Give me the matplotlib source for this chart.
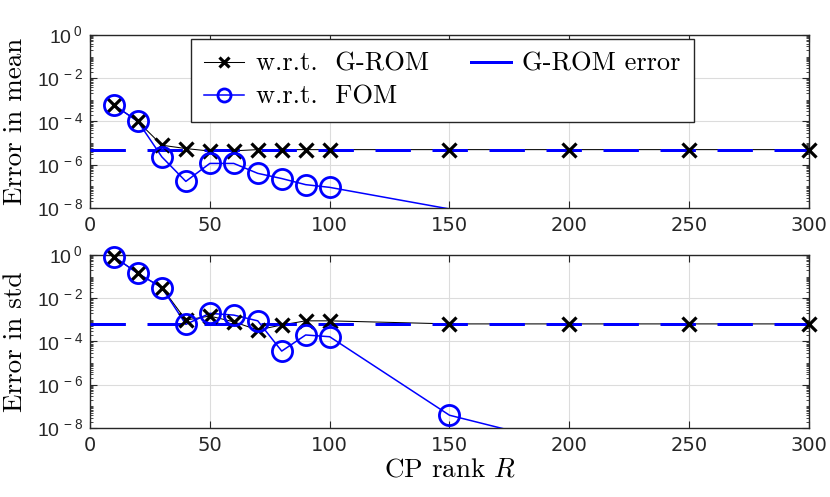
"""
Error of the CP-decomposed ROM versus CP rank (mean and std)
"""

import numpy as np
import matplotlib

matplotlib.use('Agg')

import matplotlib.pyplot as plt
from matplotlib.lines import Line2D
from matplotlib.ticker import LogLocator, FuncFormatter, MultipleLocator, NullFormatter

# CP ranks
cp_rank = [10, 20, 30, 40, 50, 60, 70, 80, 90, 100, 150, 200, 250, 300]

# Error in mean
mean_wrt_grom = [5.8e-4, 1.0e-4, 8.0e-6, 5.6e-6, 4.3e-6, 4.4e-6, 5.0e-6, 5.0e-6, 5.0e-6, 5.0e-6,
                 5.0e-6, 5.0e-6, 5.0e-6, 5.0e-6]
mean_wrt_fom = [5.8e-4, 1.0e-4, 2.3e-6, 1.7e-7, 1.15e-6, 1.15e-6, 4.0e-7, 2.3e-7, 1.2e-7, 9.0e-8,
                9.0e-9, 3.0e-9, 1.5e-9, 1.0e-9]
mean_grom_error = 5.0e-6

# Error in std
std_wrt_grom = [0.83, 0.14, 0.031, 9.8e-4, 1.5e-3, 8.1e-4, 3.4e-4, 5.8e-4, 9.0e-4, 9.0e-4,
                6.5e-4, 6.5e-4, 6.5e-4, 6.5e-4]
std_wrt_fom = [0.83, 0.14, 0.031, 6.2e-4, 2.0e-3, 1.66e-3, 9.0e-4, 3.6e-5, 2.0e-4, 1.66e-4,
               3.9e-8, 1.6e-9, 5.0e-10, 2.0e-10]
std_grom_error = 6.2e-4

y_min, y_max = 1e-8, 1e0
x_min, x_max = 0, 300

plt.rcParams['mathtext.fontset'] = 'custom'
plt.rcParams['mathtext.rm'] = 'Liberation Sans'
plt.rcParams['mathtext.it'] = 'cmmi10'
plt.rcParams['axes.unicode_minus'] = True

AXIS_COLOR = '#262626'
LABEL_FONT = 'cmr10'
LABEL_SIZE = 19.5


def draw_panel(ax, wrt_grom, wrt_fom, grom_error, y_label):
    x = np.array(cp_rank)
    g = np.array(wrt_grom)
    f = np.array(wrt_fom)

    # Lines are clipped by the axes; markers are drawn only for points inside the limits (MATLAB style)
    ax.plot(x, g, color='k', lw=0.75, zorder=3)
    ax.plot(x, f, color='b', lw=1.1, zorder=4)
    ax.axhline(grom_error, color='b', lw=2.16, linestyle=(0, (11.8, 7.2)), zorder=5)

    mask_g = (g >= y_min) & (g <= y_max)
    mask_f = (f >= y_min) & (f <= y_max)
    ax.plot(x[mask_g], g[mask_g], ls='none', marker='x', ms=10.5, mew=2.3, color='k',
            clip_on=False, zorder=6)
    ax.plot(x[mask_f], f[mask_f], ls='none', marker='o', ms=14.5, mew=2.0, mfc='none', mec='b',
            clip_on=False, zorder=6)

    ax.set_yscale('log')
    ax.set_ylim(y_min, y_max)
    ax.set_xlim(x_min, x_max)

    ax.yaxis.set_major_locator(LogLocator(base=100, numticks=10))
    ax.yaxis.set_minor_locator(LogLocator(base=10, subs=np.arange(1, 10), numticks=20))
    ax.yaxis.set_major_formatter(FuncFormatter(lambda v, p: r'$10^{\,%d}$' % round(np.log10(v))))
    ax.yaxis.set_minor_formatter(NullFormatter())
    ax.xaxis.set_major_locator(MultipleLocator(50))

    ax.tick_params(which='both', direction='in', top=True, right=True, color=AXIS_COLOR,
                   labelcolor=AXIS_COLOR, labelsize=14)
    ax.tick_params(which='major', length=5, width=0.8)
    ax.tick_params(which='minor', length=2.5, width=0.6)
    ax.tick_params(axis='x', pad=6)
    ax.tick_params(axis='y', pad=5)

    for spine in ax.spines.values():
        spine.set_color(AXIS_COLOR)
        spine.set_linewidth(1.0)

    ax.grid(True, which='major', color='#dcdcdc', lw=0.8)
    ax.set_axisbelow(True)

    ax.set_ylabel(y_label, family=LABEL_FONT, fontsize=LABEL_SIZE, color='k')
    ax.yaxis.set_label_coords(-0.088, 0.5)


fig = plt.figure(figsize=(8.3, 4.97), dpi=100)
ax_mean = fig.add_axes([0.1084, 0.5815, 0.8663, 0.3481])
ax_std = fig.add_axes([0.1084, 0.1388, 0.8663, 0.3482])

draw_panel(ax_mean, mean_wrt_grom, mean_wrt_fom, mean_grom_error, 'Error in mean')
draw_panel(ax_std, std_wrt_grom, std_wrt_fom, std_grom_error, 'Error in std')

ax_std.set_xlabel(r'CP rank $R$', family=LABEL_FONT, fontsize=LABEL_SIZE, color='k', labelpad=2)

# Legend with proxy handles
handles = [
    Line2D([], [], color='k', lw=0.75, marker='x', ms=10.5, mew=2.3),
    Line2D([], [], color='b', lw=1.1, marker='o', ms=14.5, mew=2.0, mfc='none', mec='b'),
    Line2D([], [], color='b', lw=2.16),
]
labels = ['w.r.t.  G-ROM', 'w.r.t.  FOM', 'G-ROM error']
leg = ax_mean.legend(handles, labels, ncol=2, loc='upper left', bbox_to_anchor=(0.1405, 0.977),
                     borderaxespad=0, fancybox=False, framealpha=1, edgecolor=AXIS_COLOR,
                     prop={'family': LABEL_FONT, 'size': 19}, handlelength=1.5,
                     handletextpad=0.45, columnspacing=1.6, labelspacing=0.35, markerscale=0.65,
                     borderpad=0.5)
leg.get_frame().set_linewidth(1.0)
leg.set_zorder(10)

plt.savefig('out.png', dpi=100)
plt.close()
